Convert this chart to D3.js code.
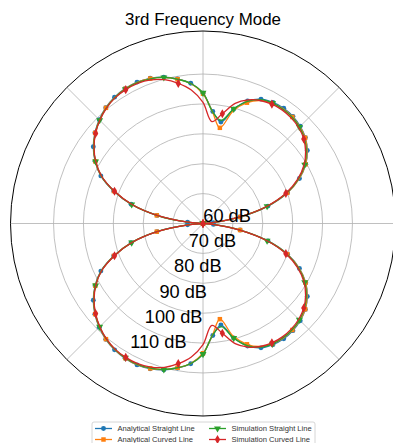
<!DOCTYPE html>
<html>
<head>
<meta charset="utf-8">
<script src="https://cdn.jsdelivr.net/npm/d3@7"></script>
<style>
  html, body { margin: 0; padding: 0; background: #fff; }
  svg { display: block; }
</style>
</head>
<body>
<svg id="chart" width="393" height="443"></svg>
<script>
// Polar directivity pattern: sound level (dB) against angle (degrees)
const angles = [0, 5, 10, 15, 20, 25, 30, 35, 40, 45, 50, 55, 60, 65, 70, 75, 80, 85, 90,
  95, 100, 105, 110, 115, 120, 125, 130, 135, 140, 145, 150, 155, 160, 165, 170, 175, 180,
  185, 190, 195, 200, 205, 210, 215, 220, 225, 230, 235, 240, 245, 250, 255, 260, 265, 270,
  275, 280, 285, 290, 295, 300, 305, 310, 315, 320, 325, 330, 335, 340, 345, 350, 355, 360];

const analyticalStraight = [60, 63.5, 72.6, 82.5, 90.1, 95.6, 99.7, 102.6, 104.7, 106.0, 106.8, 107.1, 106.8, 105.9, 103.6, 99.6, 94.5, 97.6, 103.6,
  107.1, 109.1, 110.7, 111.7, 112.2, 112.1, 111.6, 110.6, 109.1, 107.2, 104.8, 101.7, 97.7, 91.8, 84.9, 75.6, 65.2, 60,
  65.2, 75.6, 84.9, 91.8, 97.7, 101.7, 104.8, 107.2, 109.1, 110.6, 111.6, 112.1, 112.2, 111.7, 110.7, 109.1, 107.1, 103.6,
  97.6, 94.5, 99.6, 103.6, 105.9, 106.8, 107.1, 106.8, 106.0, 104.7, 102.6, 99.7, 95.6, 90.1, 82.5, 72.6, 63.5, 60];

const analyticalCurved = [60, 63.4, 72.6, 82.4, 90.0, 95.5, 99.6, 102.5, 104.6, 105.8, 106.5, 106.8, 106.4, 105.4, 103.0, 99.0, 92.5, 97.3, 103.4,
  107.0, 109.0, 110.6, 111.6, 112.1, 112.0, 111.5, 110.5, 109.0, 107.1, 104.7, 101.6, 97.6, 91.7, 84.8, 75.7, 65.1, 60,
  65.1, 75.7, 84.8, 91.7, 97.6, 101.6, 104.7, 107.1, 109.0, 110.5, 111.5, 112.0, 112.1, 111.6, 110.6, 109.0, 107.0, 103.4,
  97.3, 92.5, 99.0, 103.0, 105.4, 106.4, 106.8, 106.5, 105.8, 104.6, 102.5, 99.6, 95.5, 90.0, 82.4, 72.6, 63.4, 60];

const simulationStraight = [60, 63.3, 72.3, 82.2, 89.8, 95.2, 99.3, 102.2, 104.3, 105.6, 106.4, 106.7, 106.5, 105.7, 103.5, 99.7, 95.0, 97.4, 103.7,
  107.0, 109.0, 110.6, 111.5, 112.0, 111.9, 111.4, 110.4, 108.9, 107.0, 104.6, 101.5, 97.5, 91.6, 84.7, 75.4, 65.0, 60,
  65.0, 75.4, 84.7, 91.6, 97.5, 101.5, 104.6, 107.0, 108.9, 110.4, 111.4, 111.9, 112.0, 111.5, 110.6, 109.0, 107.0, 103.7,
  97.4, 95.0, 99.7, 103.5, 105.7, 106.5, 106.7, 106.4, 105.6, 104.3, 102.2, 99.3, 95.2, 89.8, 82.2, 72.3, 63.3, 60];

const simulationCurved = [60, 63.2, 72.2, 82.0, 89.5, 94.9, 99.0, 101.9, 104.0, 105.3, 106.0, 106.3, 106.1, 105.4, 104.0, 101.6, 97.3, 94.2, 100.5,
  104.8, 107.6, 109.8, 111.1, 111.7, 111.7, 111.3, 110.3, 108.8, 106.9, 104.5, 101.4, 97.4, 91.5, 84.6, 75.3, 64.9, 60,
  64.9, 75.3, 84.6, 91.5, 97.4, 101.4, 104.5, 106.9, 108.8, 110.3, 111.3, 111.7, 111.7, 111.1, 109.8, 107.6, 104.8, 100.5,
  94.2, 97.3, 101.6, 104.0, 105.4, 106.1, 106.3, 106.0, 105.3, 104.0, 101.9, 99.0, 94.9, 89.5, 82.0, 72.2, 63.2, 60];

const seriesNames = ["Analytical Straight Line", "Analytical Curved Line", "Simulation Straight Line", "Simulation Curved Line"];
const radialTicks = [60, 70, 80, 90, 100, 110];
const radialTickLabels = ["60 dB", "70 dB", "80 dB", "90 dB", "100 dB", "110 dB"];
const angularGrid = [0, 45, 90, 135, 180, 225, 270, 315];
const titleText = "3rd Frequency Mode";

// ---- layout ----
const cx = 203, cy = 223.5, R = 192.5;
const rMin = 60, rMax = 124.4;
const labelAngle = 240;          // radial tick labels run down-left from the centre
const font = "'Liberation Sans', Arial, Helvetica, sans-serif";

const colors = ["#1f77b4", "#ff7f0e", "#2ca02c", "#d62728"];
const symbols = [d3.symbolCircle, d3.symbolSquare, d3.symbolTriangle, d3.symbolDiamond];
const symbolSizes = [19, 20, 21, 24];
const symbolRotate = [0, 0, 180, 0];
const markEvery = [1, 2, 3, 4];

const seriesValues = [analyticalStraight, analyticalCurved, simulationStraight, simulationCurved];

const svg = d3.select("#chart");

const r = d3.scaleLinear().domain([rMin, rMax]).range([0, R]);
// degrees counter-clockwise from east -> d3 radial angle (clockwise from north)
const a = d3.scaleLinear().domain([0, 360]).range([Math.PI / 2, Math.PI / 2 - 2 * Math.PI]);

const g = svg.append("g").attr("transform", `translate(${cx},${cy})`);

// radial grid rings
g.append("g").selectAll("circle")
  .data(radialTicks.filter(t => r(t) > 0))
  .join("circle")
  .attr("r", d => r(d))
  .attr("fill", "none")
  .attr("stroke", "#b0b0b0")
  .attr("stroke-width", 0.8);

// angular grid spokes
g.append("g").selectAll("line")
  .data(angularGrid)
  .join("line")
  .attr("x1", 0).attr("y1", 0)
  .attr("x2", d => R * Math.sin(a(d)))
  .attr("y2", d => -R * Math.cos(a(d)))
  .attr("stroke", "#b0b0b0")
  .attr("stroke-width", 0.8);

// series
const line = d3.lineRadial()
  .angle(d => a(d[0]))
  .radius(d => r(d[1]))
  .curve(d3.curveCatmullRom.alpha(0.5));

seriesValues.forEach((vals, i) => {
  const pts = angles.map((ang, k) => [ang, vals[k]]);
  const sg = g.append("g");
  sg.append("path")
    .attr("d", line(pts))
    .attr("fill", "none")
    .attr("stroke", colors[i])
    .attr("stroke-width", 1.3)
    .attr("stroke-linejoin", "round");
  const sym = d3.symbol().type(symbols[i]).size(symbolSizes[i]);
  sg.selectAll("path.mk")
    .data(pts.filter((p, k) => k % markEvery[i] === 0))
    .join("path")
    .attr("class", "mk")
    .attr("d", sym)
    .attr("fill", colors[i])
    .attr("transform", d => {
      const x = r(d[1]) * Math.sin(a(d[0]));
      const y = -r(d[1]) * Math.cos(a(d[0]));
      return `translate(${x},${y}) rotate(${symbolRotate[i]})`;
    });
});

// outer frame
g.append("circle")
  .attr("r", R)
  .attr("fill", "none")
  .attr("stroke", "#000")
  .attr("stroke-width", 1);

// radial tick labels
g.append("g").selectAll("text")
  .data(radialTicks)
  .join("text")
  .attr("x", (d) => 0.978 * r(d) * Math.sin(a(labelAngle)) + 0.3)
  .attr("y", (d) => -0.978 * r(d) * Math.cos(a(labelAngle)) - 1.8)
  .attr("font-family", font)
  .attr("font-size", 18.2)
  .attr("fill", "#000")
  .text((d, i) => radialTickLabels[i]);

// title
svg.append("text")
  .attr("x", cx)
  .attr("y", 25)
  .attr("text-anchor", "middle")
  .attr("font-family", font)
  .attr("font-size", 16.9)
  .attr("fill", "#000")
  .text(titleText);

// legend
const lg = svg.append("g");
lg.append("rect")
  .attr("x", 92).attr("y", 422)
  .attr("width", 223).attr("height", 26)
  .attr("rx", 2)
  .attr("fill", "#fff").attr("fill-opacity", 0.8)
  .attr("stroke", "#cccccc").attr("stroke-width", 0.8);

const legendPos = [[95, 428.5], [95, 439.5], [209, 428.5], [209, 439.5]];
seriesNames.forEach((name, i) => {
  const [lx, ly] = legendPos[i];
  lg.append("line")
    .attr("x1", lx).attr("x2", lx + 17)
    .attr("y1", ly).attr("y2", ly)
    .attr("stroke", colors[i]).attr("stroke-width", 1.3);
  lg.append("path")
    .attr("d", d3.symbol().type(symbols[i]).size(symbolSizes[i])())
    .attr("fill", colors[i])
    .attr("transform", `translate(${lx + 8.5},${ly}) rotate(${symbolRotate[i]})`);
  lg.append("text")
    .attr("x", lx + 22.5)
    .attr("y", ly + 2.7)
    .attr("font-family", font)
    .attr("font-size", 7.6)
    .attr("fill", "#333")
    .text(name);
});
</script>
</body>
</html>
